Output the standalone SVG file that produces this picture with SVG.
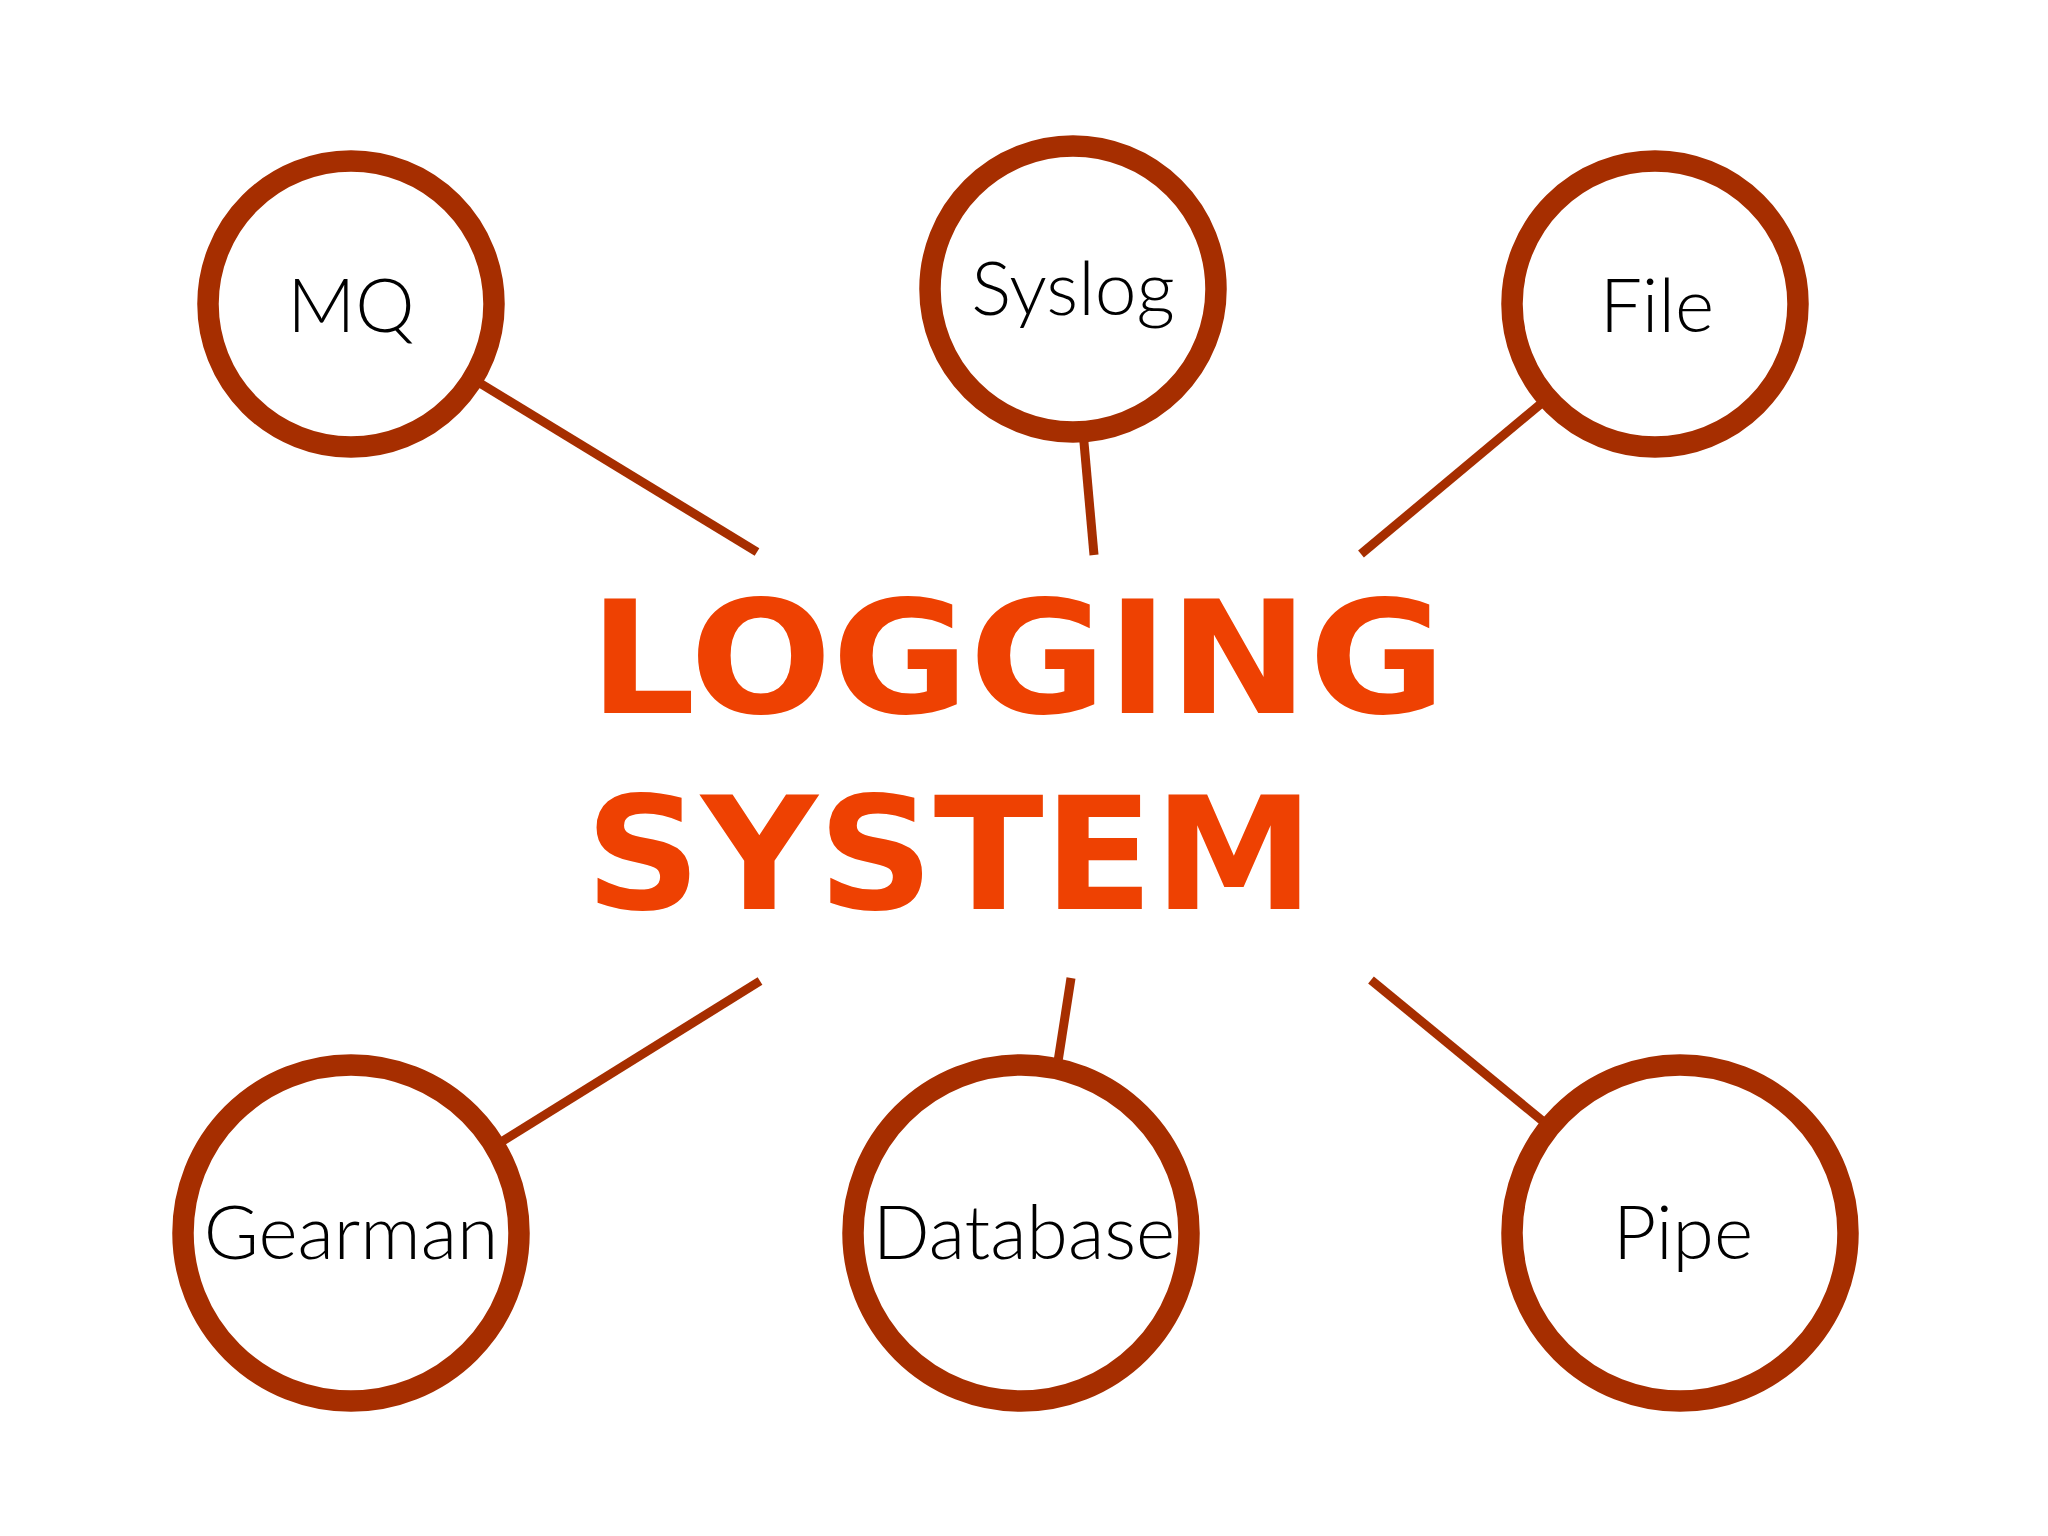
<svg xmlns="http://www.w3.org/2000/svg" width="2048" height="1536" viewBox="0 0 2048 1536">
<style>
.ring{fill:#fff;stroke:#A62E00;stroke-width:21.5}
.conn{stroke:#A62E00;stroke-width:9;fill:none}
.lbl{font-family:Lato,"Open Sans","Liberation Sans",sans-serif;font-weight:300;font-size:75px;fill:#000;text-anchor:middle}
.title{font-family:"DejaVu Sans","Liberation Sans",sans-serif;font-weight:bold;font-size:156px;fill:#EE4102}
</style>
<rect width="2048" height="1536" fill="#fff"/>
<g id="connectors">
<line class="conn" x1="460" y1="371" x2="757" y2="552"/>
<line class="conn" x1="1082" y1="420" x2="1094" y2="555"/>
<line class="conn" x1="1555" y1="392" x2="1361" y2="554"/>
<line class="conn" x1="485" y1="1152" x2="760" y2="981"/>
<line class="conn" x1="1057" y1="1068" x2="1071" y2="978"/>
<line class="conn" x1="1556" y1="1132" x2="1371" y2="980"/>
</g>
<g id="title">
<text class="title" x="589" y="713" textLength="857" lengthAdjust="spacingAndGlyphs">LOGGING</text>
<text class="title" x="585" y="909" textLength="729" lengthAdjust="spacingAndGlyphs">SYSTEM</text>
</g>
<g id="node-mq"><circle class="ring" cx="351" cy="304" r="143"/><text class="lbl" x="351" y="332">MQ</text></g>
<g id="node-syslog"><circle class="ring" cx="1073" cy="289" r="143"/><text class="lbl" x="1073" y="315">Syslog</text></g>
<g id="node-file"><circle class="ring" cx="1655" cy="304" r="143"/><text class="lbl" x="1657" y="332">File</text></g>
<g id="node-gearman"><circle class="ring" cx="351" cy="1233" r="168"/><text class="lbl" x="351" y="1259">Gearman</text></g>
<g id="node-database"><circle class="ring" cx="1021" cy="1233" r="168"/><text class="lbl" x="1024" y="1259">Database</text></g>
<g id="node-pipe"><circle class="ring" cx="1680" cy="1233" r="168"/><text class="lbl" x="1683" y="1259">Pipe</text></g>
</svg>
